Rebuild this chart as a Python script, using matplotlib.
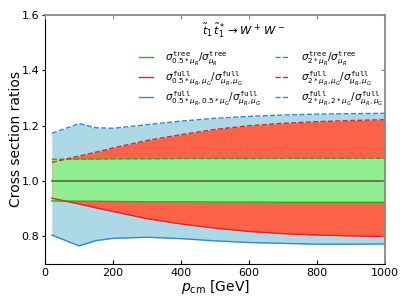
import numpy as np
import matplotlib
matplotlib.use("Agg")
import matplotlib.pyplot as plt

# momentum values [GeV]
p_cm = [20, 100, 150, 200, 300, 400, 500, 600, 700, 800, 900, 1000]

# tree level scale variation (mu_R)
tree_lo = [0.928, 0.927, 0.927, 0.926, 0.925, 0.925, 0.924, 0.924, 0.923, 0.923, 0.923, 0.923]
tree_hi = [1.078, 1.079, 1.079, 1.080, 1.080, 1.081, 1.081, 1.081, 1.082, 1.082, 1.082, 1.082]

# full, mu_R varied
full_r_lo = [0.938, 0.917, 0.903, 0.890, 0.864, 0.845, 0.830, 0.818, 0.810, 0.805, 0.802, 0.800]
full_r_hi = [1.067, 1.090, 1.104, 1.119, 1.146, 1.167, 1.186, 1.199, 1.208, 1.214, 1.218, 1.221]

# full, mu_R and mu_G varied
full_rg_lo = [0.805, 0.766, 0.785, 0.793, 0.797, 0.792, 0.784, 0.778, 0.775, 0.772, 0.772, 0.773]
full_rg_hi = [1.172, 1.207, 1.192, 1.190, 1.203, 1.216, 1.226, 1.233, 1.238, 1.241, 1.243, 1.244]

central = [1.0] * len(p_cm)

xticks = [0, 200, 400, 600, 800, 1000]
yticks = [0.8, 1.0, 1.2, 1.4, 1.6]

c_green = "#1db31d"
c_red = "#e8202a"
c_blue = "#2f86de"
c_grey = "#888888"

fig = plt.figure(figsize=(4.07, 3.05), dpi=100)
ax = fig.add_axes([0.1106, 0.134, 0.8354, 0.818])

# bands
ax.fill_between(p_cm, full_rg_lo, full_rg_hi, color="lightblue", lw=0)
ax.fill_between(p_cm, full_r_lo, full_r_hi, color="tomato", lw=0)
ax.fill_between(p_cm, tree_lo, tree_hi, color="lightgreen", lw=0)

ax.plot(p_cm, central, color="#4d6b4d", lw=1.2)

ax.plot(p_cm, tree_lo, color=c_green, lw=1,
        label=r"$\sigma^{\mathtt{tree}}_{0.5*\mu_R}/\sigma^{\mathtt{tree}}_{\mu_R}$")
ax.plot(p_cm, full_r_lo, color=c_red, lw=1,
        label=r"$\sigma^{\mathtt{full}}_{0.5*\mu_R,\mu_G}/\sigma^{\mathtt{full}}_{\mu_R,\mu_G}$")
ax.plot(p_cm, full_rg_lo, color=c_blue, lw=1,
        label=r"$\sigma^{\mathtt{full}}_{0.5*\mu_R,0.5*\mu_G}/\sigma^{\mathtt{full}}_{\mu_R,\mu_G}$")
ax.plot(p_cm, tree_hi, color=c_green, lw=1, ls="--",
        label=r"$\sigma^{\mathtt{tree}}_{2*\mu_R}/\sigma^{\mathtt{tree}}_{\mu_R}$")
ax.plot(p_cm, full_r_hi, color=c_red, lw=1, ls="--",
        label=r"$\sigma^{\mathtt{full}}_{2*\mu_R,\mu_G}/\sigma^{\mathtt{full}}_{\mu_R,\mu_G}$")
ax.plot(p_cm, full_rg_hi, color=c_blue, lw=1, ls="--",
        label=r"$\sigma^{\mathtt{full}}_{2*\mu_R,2*\mu_G}/\sigma^{\mathtt{full}}_{\mu_R,\mu_G}$")

ax.set_xlim(0, 1000)
ax.set_ylim(0.7, 1.6)
ax.set_xticks(xticks)
ax.set_yticks(yticks)
ax.set_xlabel(r"$p_{\rm cm}$ [GeV]", fontsize=10, labelpad=0)
ax.set_ylabel("Cross section ratios", fontsize=10)
ax.yaxis.set_label_coords(-0.065, 0.5)
ax.tick_params(axis="x", direction="in", length=3, labelsize=8, pad=3, top=False)
ax.tick_params(axis="y", direction="out", length=2.5, labelsize=8, pad=1.5, right=False)

for s in ["top", "right"]:
    ax.spines[s].set_color(c_grey)
    ax.spines[s].set_linewidth(1.3)

# grey inward ticks on top / right
axt = ax.twiny()
axt.set_xlim(ax.get_xlim())
axt.set_xticks(xticks)
axt.tick_params(direction="in", length=3, color=c_grey, labeltop=False)
axr = ax.twinx()
axr.set_ylim(ax.get_ylim())
axr.set_yticks(yticks)
axr.tick_params(direction="in", length=3, color=c_grey, labelright=False)
for a in (axt, axr):
    for sp in a.spines.values():
        sp.set_visible(False)

ax.text(0.585, 0.935, r"$\tilde{t}_1\,\tilde{t}_1^* \rightarrow W^+\,W^-$",
        transform=ax.transAxes, ha="center", va="center", fontsize=8.2)

leg = ax.legend(ncol=2, loc="upper right", bbox_to_anchor=(1.0, 0.872),
                frameon=False, fontsize=7.5, handlelength=1.4,
                handletextpad=1.1, columnspacing=1.3, labelspacing=0.2,
                borderaxespad=0.0, borderpad=0.2)

fig.savefig("out.png", dpi=100)
